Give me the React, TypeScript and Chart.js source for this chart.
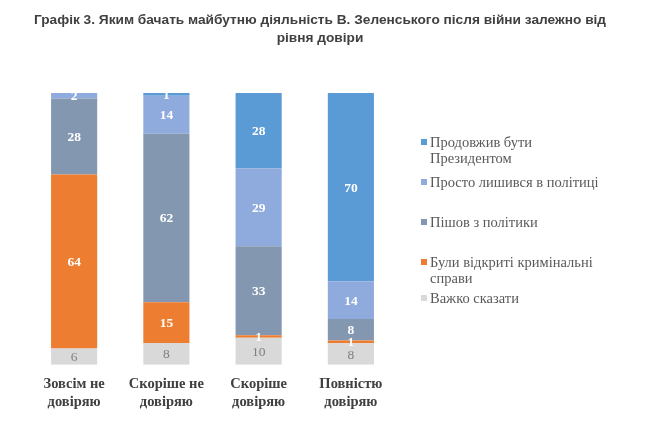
import { useEffect, useRef } from 'react';
import Chart from 'chart.js/auto';

const chartTitle = [
  'Графік 3. Яким бачать майбутню діяльність В. Зеленського після війни залежно від',
  'рівня довіри',
];

const categories = [
  ['Зовсім не', 'довіряю'],
  ['Скоріше не', 'довіряю'],
  ['Скоріше', 'довіряю'],
  ['Повністю', 'довіряю'],
];

// значення знизу вгору, як у стовпчиках
const hardToSay = [6, 8, 10, 8];
const criminalCases = [64, 15, 1, 1];
const leftPolitics = [28, 62, 33, 8];
const stayedInPolitics = [2, 14, 29, 14];
const stayedPresident = [0, 1, 28, 70];

const seriesNames = [
  'Важко сказати',
  'Були відкриті кримінальні справи',
  'Пішов з політики',
  'Просто лишився в політиці',
  'Продовжив бути Президентом',
];

// підписи легенди з переносами, зверху вниз
const legendLines = [
  ['Продовжив бути', 'Президентом'],
  ['Просто лишився в політиці'],
  ['Пішов з політики'],
  ['Були відкриті кримінальні', 'справи'],
  ['Важко сказати'],
];

const colors = ['#D9D9D9', '#ED7D31', '#8497B0', '#8FAADC', '#5B9BD5'];

const SERIF = "'Liberation Serif', 'Times New Roman', serif";
const SANS = "'Liberation Sans', Arial, sans-serif";

const App = () => {
  const canvasRef = useRef<HTMLCanvasElement>(null);

  useEffect(() => {
    document.body.style.margin = '0';
    if (!canvasRef.current) return;

    const raw = [hardToSay, criminalCases, leftPolitics, stayedInPolitics, stayedPresident];
    const totals = categories.map((_, i) => raw.reduce((s, arr) => s + arr[i], 0));

    const overlay = {
      id: 'overlay',
      afterDatasetsDraw(chart: any) {
        const { ctx } = chart;
        ctx.save();
        ctx.textAlign = 'center';
        ctx.textBaseline = 'middle';
        chart.data.datasets.forEach((ds: any, di: number) => {
          const meta = chart.getDatasetMeta(di);
          meta.data.forEach((el: any, i: number) => {
            const v = ds.rawValues[i];
            if (!v) return;
            const y = (el.y + el.base) / 2;
            if (di === 0) {
              ctx.fillStyle = '#7F7F7F';
              ctx.font = `13.5px ${SERIF}`;
            } else {
              ctx.fillStyle = '#FFFFFF';
              ctx.font = `bold 13.5px ${SERIF}`;
            }
            ctx.fillText(String(v), el.x, y + 1);
          });
        });
        ctx.restore();
      },
      afterDraw(chart: any) {
        const { ctx, width } = chart;
        ctx.save();
        // заголовок
        ctx.fillStyle = '#404040';
        ctx.font = `bold 13.7px ${SANS}`;
        ctx.textAlign = 'center';
        ctx.textBaseline = 'middle';
        chartTitle.forEach((line, i) => ctx.fillText(line, width / 2 - 3, 20 + i * 18));

        // легенда
        const area = chart.chartArea;
        const lx = area.right + 24;
        ctx.textAlign = 'left';
        ctx.font = `14.5px ${SERIF}`;
        legendLines.forEach((lines, i) => {
          const y = 142 + i * 40 - (i === 4 ? 4 : 0);
          ctx.fillStyle = colors[colors.length - 1 - i];
          ctx.fillRect(lx, y - 3, 6, 6);
          ctx.fillStyle = '#595959';
          lines.forEach((t, j) => ctx.fillText(t, lx + 9, y + 1 + j * 16));
        });
        ctx.restore();
      },
    };

    const chart = new Chart(canvasRef.current, {
      type: 'bar',
      data: {
        labels: categories,
        datasets: raw.map((arr, di) => ({
          label: seriesNames[di],
          data: arr.map((v, i) => (v / totals[i]) * 100),
          rawValues: arr,
          backgroundColor: colors[di],
          borderWidth: 0,
          categoryPercentage: 1,
          barPercentage: 0.5,
        })) as any,
      },
      options: {
        animation: false,
        responsive: false,
        maintainAspectRatio: false,
        layout: { padding: { left: 28, right: 249, top: 93, bottom: 17 } },
        plugins: {
          legend: { display: false },
          title: { display: false },
          tooltip: { enabled: false },
        },
        scales: {
          x: {
            stacked: true,
            grid: { display: false },
            border: { display: false },
            ticks: {
              color: '#404040',
              font: { family: SERIF, size: 14.5, weight: 'bold', lineHeight: 1.25 },
              padding: 2,
              maxRotation: 0,
            },
          },
          y: {
            stacked: true,
            display: false,
            min: 0,
            max: 100,
          },
        },
      },
      plugins: [overlay],
    });

    return () => chart.destroy();
  }, []);

  return (
    <div style={{ width: 646, height: 430, background: '#FFFFFF' }}>
      <canvas ref={canvasRef} width={646} height={430} />
    </div>
  );
};

export default App;
